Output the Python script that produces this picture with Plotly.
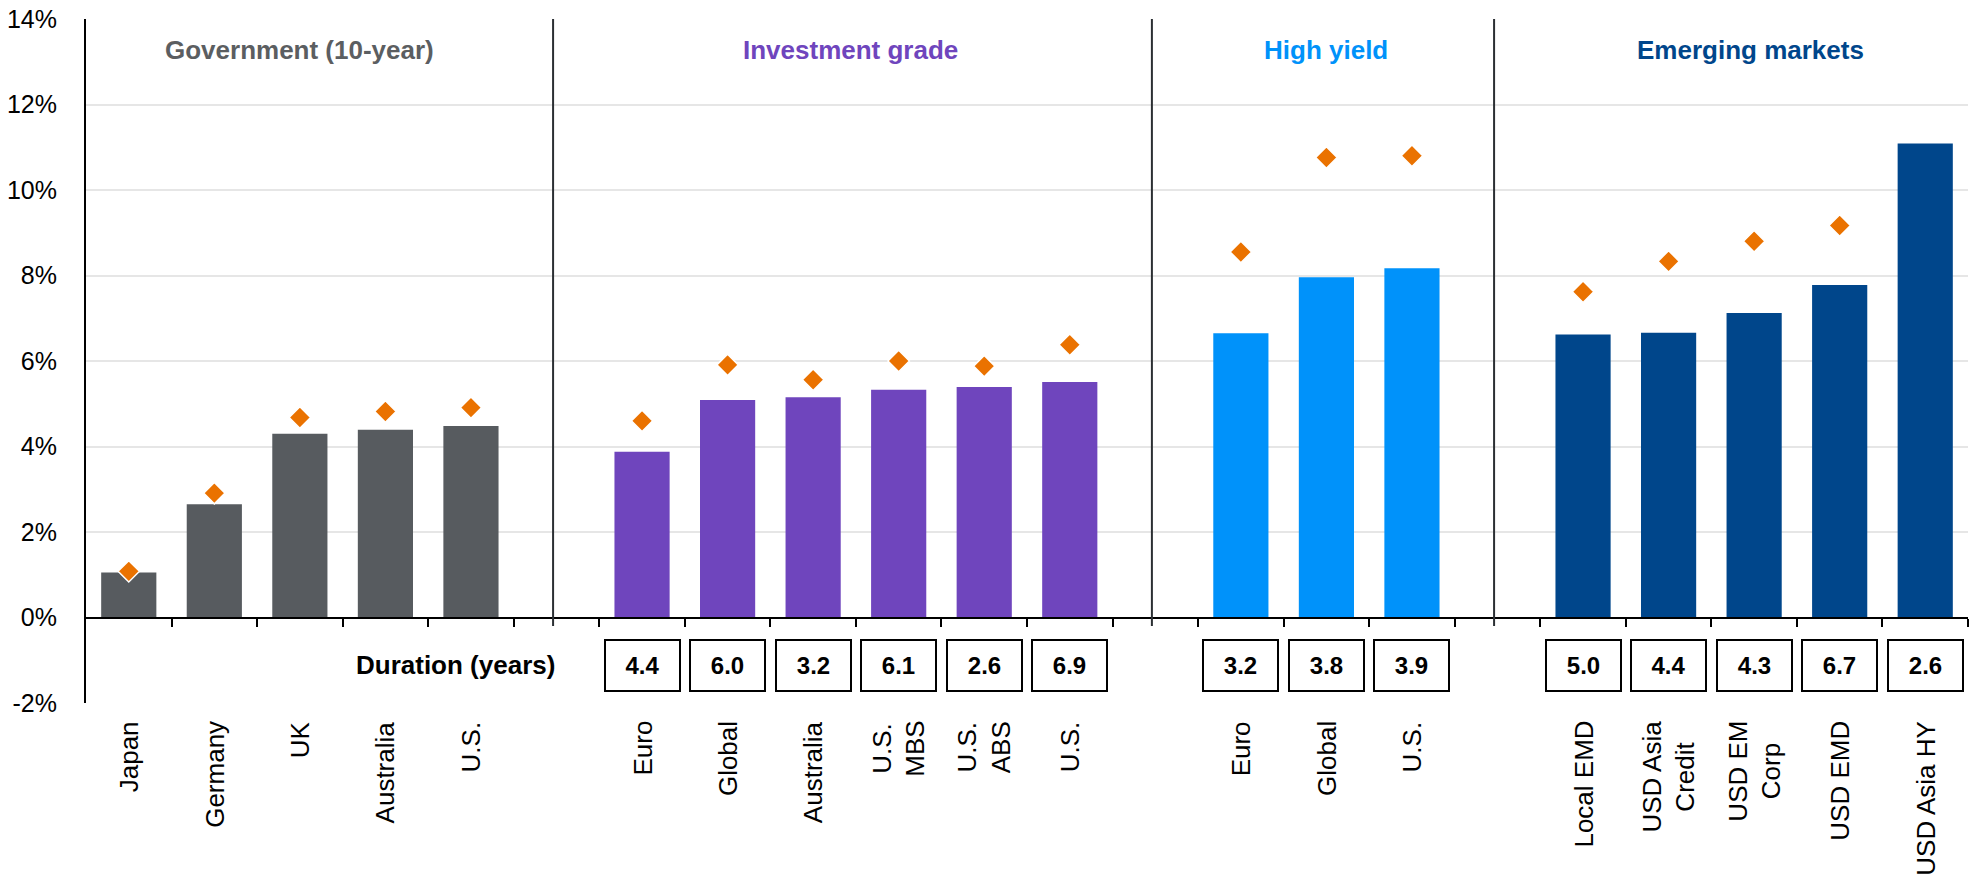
import plotly.graph_objects as go

# ---------------- data ----------------
group_names = ["Government (10-year)", "Investment grade", "High yield", "Emerging markets"]
bar_colors = ["#575B5F", "#6F45BD", "#0092FA", "#00468B"]
header_colors = ["#5B5E61", "#6F45BD", "#0092FA", "#00468B"]
marker_color = "#EA7200"

gov_labels = ["Japan", "Germany", "UK", "Australia", "U.S."]
gov_yield = [1.05, 2.65, 4.30, 4.39, 4.48]
gov_marker = [1.08, 2.91, 4.68, 4.82, 4.91]
gov_duration = [None, None, None, None, None]

ig_labels = ["Euro", "Global", "Australia", "U.S.<br>MBS", "U.S.<br>ABS", "U.S."]
ig_yield = [3.88, 5.09, 5.15, 5.33, 5.39, 5.51]
ig_marker = [4.60, 5.91, 5.56, 6.00, 5.88, 6.38]
ig_duration = [4.4, 6.0, 3.2, 6.1, 2.6, 6.9]

hy_labels = ["Euro", "Global", "U.S."]
hy_yield = [6.65, 7.96, 8.17]
hy_marker = [8.55, 10.76, 10.80]
hy_duration = [3.2, 3.8, 3.9]

em_labels = ["Local EMD", "USD Asia<br>Credit", "USD EM<br>Corp", "USD EMD", "USD Asia HY"]
em_yield = [6.62, 6.66, 7.12, 7.78, 11.09]
em_marker = [7.62, 8.33, 8.80, 9.17, None]
em_duration = [5.0, 4.4, 4.3, 6.7, 2.6]

y_tickvals = [-2, 0, 2, 4, 6, 8, 10, 12, 14]
y_ticktext = ["-2%", "0%", "2%", "4%", "6%", "8%", "10%", "12%", "14%"]
duration_title = "Duration (years)"

FONT = "Liberation Sans, Arial, sans-serif"

label_sets = [gov_labels, ig_labels, hy_labels, em_labels]
yield_sets = [gov_yield, ig_yield, hy_yield, em_yield]
marker_sets = [gov_marker, ig_marker, hy_marker, em_marker]
duration_sets = [gov_duration, ig_duration, hy_duration, em_duration]

# slot positions with one empty slot between groups
positions = []
start = 0
for labels in label_sets:
    positions.append(list(range(start, start + len(labels))))
    start += len(labels) + 1
n_slots = start - 1
x_range = [-0.5, n_slots - 0.5]

fig = go.Figure()

for g in range(4):
    fig.add_trace(go.Bar(
        x=positions[g], y=yield_sets[g], name=group_names[g],
        marker=dict(color=bar_colors[g], line=dict(width=0)),
        width=0.645, xaxis="x", yaxis="y", showlegend=False,
    ))

for g in range(4):
    fig.add_trace(go.Scatter(
        x=positions[g], y=marker_sets[g], mode="markers",
        marker=dict(symbol="diamond", size=16.5, color=marker_color,
                    line=dict(color="white", width=1.5)),
        xaxis="x", yaxis="y", showlegend=False,
    ))

annotations = []
# group headers
header_offsets = [0.0, -0.06, 0.0, -0.04]
for g in range(4):
    cx = (positions[g][0] + positions[g][-1]) / 2 + header_offsets[g]
    annotations.append(dict(
        x=cx, y=13.28, xref="x", yref="y", text=f"<b>{group_names[g]}</b>",
        showarrow=False, font=dict(family=FONT, size=26, color=header_colors[g]),
        xanchor="center", yanchor="middle",
    ))

# category labels (rotated, centred multi-line)
for g in range(4):
    for p, lab in zip(positions[g], label_sets[g]):
        annotations.append(dict(
            x=p, y=0, xref="x", yref="paper", yshift=-16, text=lab,
            showarrow=False, textangle=-90, align="center",
            font=dict(family=FONT, size=26, color="black"),
            xanchor="center", yanchor="top",
        ))

# duration title
annotations.append(dict(
    x=positions[0][-1] + 1.0, y=-1.12, xref="x", yref="y",
    text=f"<b>{duration_title}</b>", showarrow=False,
    font=dict(family=FONT, size=26, color="black"),
    xanchor="right", yanchor="middle",
))

# duration boxes
for g in range(4):
    for p, d in zip(positions[g], duration_sets[g]):
        if d is None:
            continue
        annotations.append(dict(
            x=p, y=-1.12, xref="x", yref="y", text=f"<b>{d:.1f}</b>",
            showarrow=False, font=dict(family=FONT, size=24, color="black"),
            xanchor="center", yanchor="middle",
            width=73, height=49, bordercolor="black", borderwidth=2,
            borderpad=0, bgcolor="white", align="center", valign="middle",
        ))

# group separators
shapes = []
for g in range(3):
    sx = positions[g][-1] + 1 - 0.04
    shapes.append(dict(
        type="line", xref="x", yref="y", x0=sx, x1=sx, y0=-0.2, y1=14,
        line=dict(color="#2B2F33", width=2), layer="above",
    ))

boundaries = [b + 0.5 for b in range(0, n_slots)]

fig.update_layout(
    width=1973, height=881,
    margin=dict(l=86, r=5, t=17, b=178),
    paper_bgcolor="white", plot_bgcolor="white",
    barmode="overlay",
    font=dict(family=FONT, color="black"),
    xaxis=dict(
        range=x_range, anchor="free", position=0.125,
        tickmode="array", tickvals=boundaries, showticklabels=False,
        ticks="outside", ticklen=8, tickwidth=2, tickcolor="black",
        showline=True, linewidth=2, linecolor="black",
        showgrid=False, zeroline=False, fixedrange=True,
    ),
    yaxis=dict(
        range=[-2, 14], tickmode="array", tickvals=y_tickvals, ticktext=y_ticktext,
        tickfont=dict(family=FONT, size=25, color="black"),
        showgrid=True, gridcolor="#E6E6E6", gridwidth=1.5,
        showline=True, linewidth=2, linecolor="black",
        zeroline=False, ticks="", ticklabelstandoff=22,
    ),
    annotations=annotations,
    shapes=shapes,
)

fig.write_html("out.html")
